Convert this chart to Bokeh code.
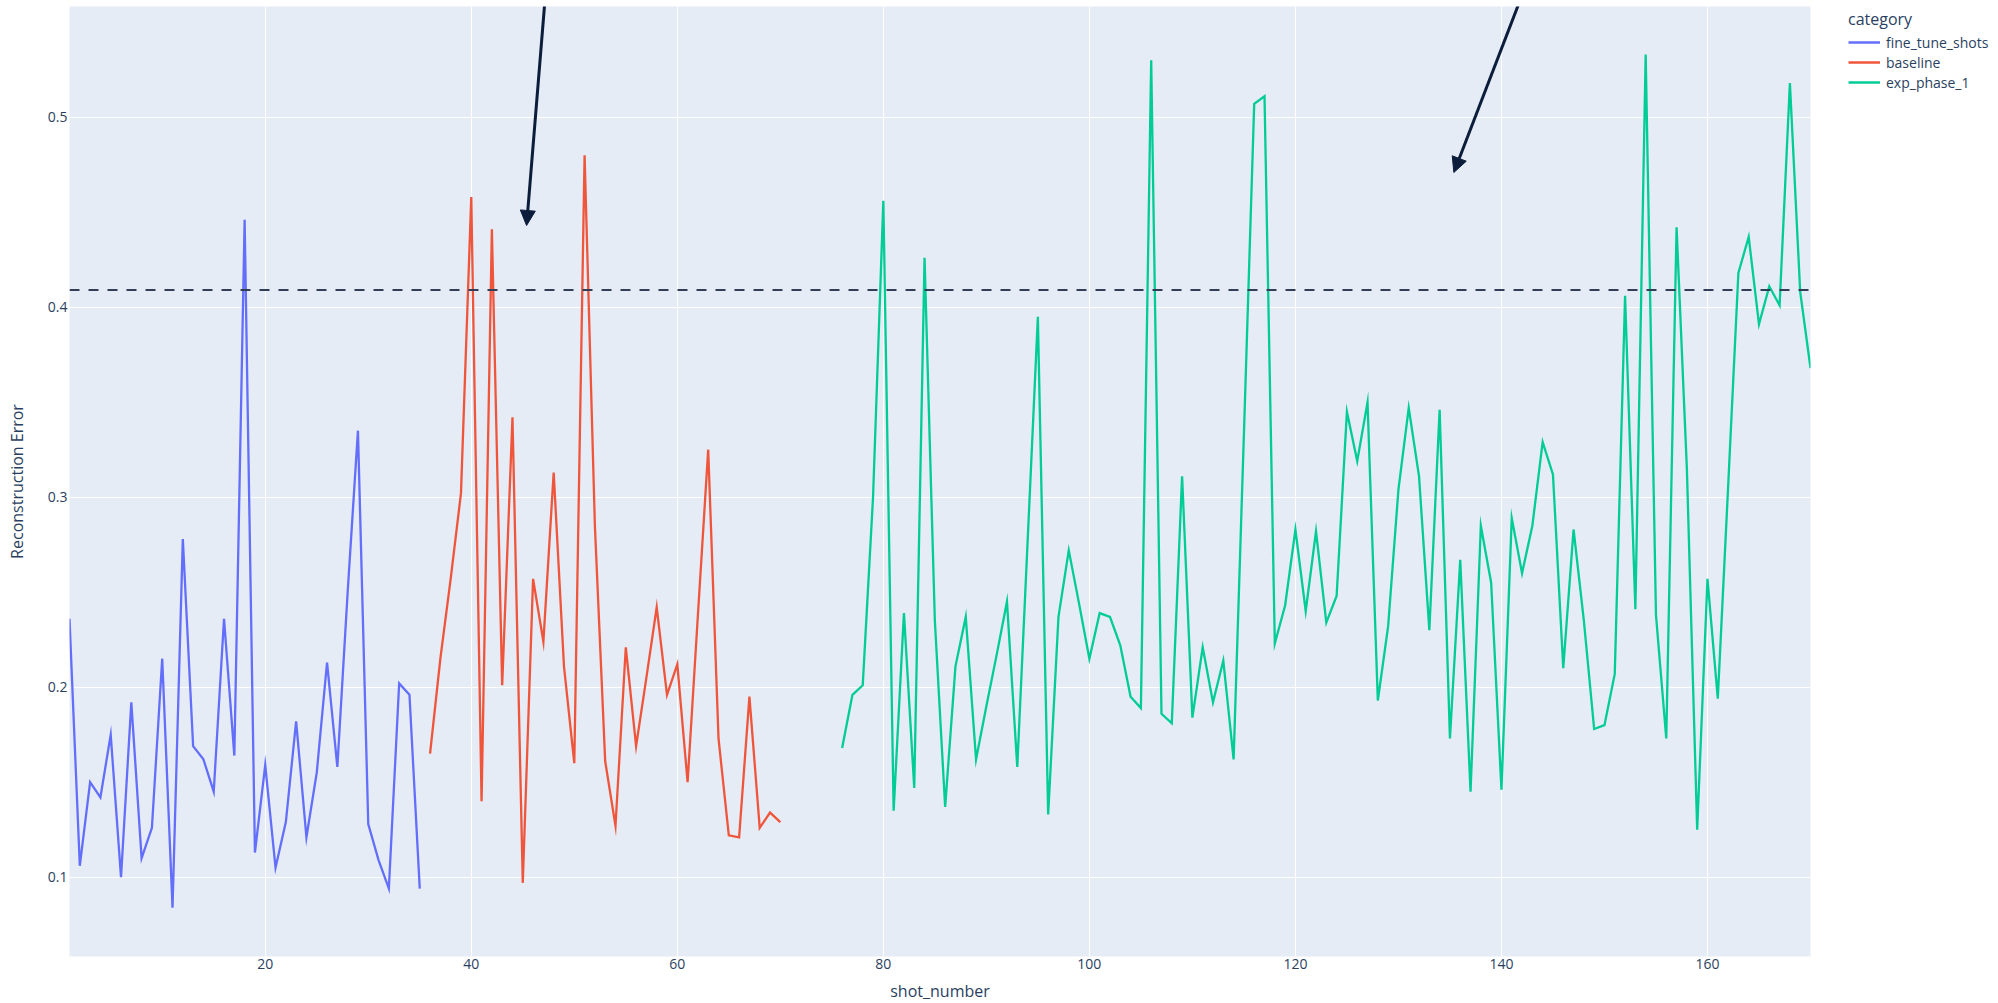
from bokeh.plotting import figure
from bokeh.models import FixedTicker, Arrow, NormalHead, Span, Legend, LegendItem, Range1d
from bokeh.embed import file_html
from bokeh.resources import INLINE

categories = ["fine_tune_shots", "baseline", "exp_phase_1"]

fine_tune_x = list(range(1, 36))
fine_tune_y = [0.236, 0.106, 0.150, 0.142, 0.175, 0.100, 0.192, 0.110, 0.126, 0.215,
               0.084, 0.278, 0.169, 0.162, 0.145, 0.236, 0.164, 0.446, 0.113, 0.159,
               0.105, 0.129, 0.182, 0.121, 0.155, 0.213, 0.158, 0.250, 0.335, 0.128,
               0.109, 0.094, 0.202, 0.196, 0.094]

baseline_x = list(range(36, 71))
baseline_y = [0.165, 0.215, 0.257, 0.302, 0.458, 0.140, 0.441, 0.201, 0.342, 0.097,
              0.257, 0.224, 0.313, 0.211, 0.160, 0.480, 0.285, 0.161, 0.127, 0.221,
              0.169, 0.205, 0.242, 0.196, 0.212, 0.150, 0.238, 0.325, 0.173, 0.122,
              0.121, 0.195, 0.126, 0.134, 0.129]

exp_x = list(range(76, 171))
exp_y = [0.168, 0.196, 0.201, 0.300, 0.456, 0.135, 0.239, 0.147, 0.426, 0.235,
         0.137, 0.211, 0.237, 0.162, 0.190, 0.217, 0.245, 0.158, 0.276, 0.395,
         0.133, 0.237, 0.272, 0.244, 0.215, 0.239, 0.237, 0.222, 0.195, 0.189,
         0.530, 0.186, 0.181, 0.311, 0.184, 0.221, 0.192, 0.214, 0.162, 0.333,
         0.507, 0.511, 0.223, 0.243, 0.283, 0.240, 0.282, 0.234, 0.248, 0.345,
         0.319, 0.350, 0.193, 0.232, 0.304, 0.347, 0.311, 0.230, 0.346, 0.173,
         0.267, 0.145, 0.285, 0.255, 0.146, 0.289, 0.260, 0.285, 0.329, 0.312,
         0.210, 0.283, 0.235, 0.178, 0.180, 0.207, 0.406, 0.241, 0.533, 0.238,
         0.173, 0.442, 0.315, 0.125, 0.257, 0.194, 0.305, 0.418, 0.437, 0.391,
         0.411, 0.401, 0.518, 0.408, 0.368]

threshold = 0.409
x_ticks = [20, 40, 60, 80, 100, 120, 140, 160]
y_ticks = [0.1, 0.2, 0.3, 0.4, 0.5]

# arrows: (x_start, y_start, x_end, y_end)
arrows = [(47.15, 0.5614, 45.37, 0.443), (141.8, 0.5614, 135.38, 0.4709)]

colors = ["#636efa", "#EF553B", "#00cc96"]
font = "Open Sans"
txt = "#2a3f5f"

p = figure(frame_width=1741, frame_height=950, output_backend="svg", toolbar_location=None,
           x_range=Range1d(1, 170), y_range=Range1d(0.05826, 0.55826),
           min_border_left=69, min_border_right=10, min_border_top=6, min_border_bottom=10)
p.background_fill_color = "#E5ECF6"
p.border_fill_color = "white"
p.outline_line_color = None

for ax in (p.xaxis[0], p.yaxis[0]):
    ax.axis_line_color = None
    ax.major_tick_line_color = None
    ax.minor_tick_line_color = None
    ax.major_tick_out = 0
    ax.major_tick_in = 0
    ax.minor_tick_out = 0
    ax.minor_tick_in = 0
    ax.major_label_text_font = font
    ax.major_label_text_font_size = "14px"
    ax.major_label_text_color = txt
    ax.axis_label_text_font = font
    ax.axis_label_text_font_size = "16px"
    ax.axis_label_text_color = txt
    ax.axis_label_text_font_style = "normal"

p.xaxis.ticker = FixedTicker(ticks=x_ticks)
p.yaxis.ticker = FixedTicker(ticks=y_ticks)
p.xaxis.axis_label = "shot_number"
p.yaxis.axis_label = "Reconstruction Error"
p.xaxis.major_label_standoff = 2
p.xaxis.axis_label_standoff = 8
p.yaxis.major_label_standoff = 2
p.yaxis.axis_label_standoff = 17

p.xgrid.grid_line_color = "white"
p.ygrid.grid_line_color = "white"
p.xgrid.grid_line_width = 1
p.ygrid.grid_line_width = 1

series = [(fine_tune_x, fine_tune_y), (baseline_x, baseline_y), (exp_x, exp_y)]
items = []
for (xs, ys), c, name in zip(series, colors, categories):
    r = p.line(xs, ys, line_color=c, line_width=2.3, line_join="miter")
    items.append(LegendItem(label=name, renderers=[r]))

span = Span(location=threshold, dimension="width", line_color="#323e58",
            line_width=2, line_dash="10 9")
p.add_layout(span)

ac = "#0b1d3a"
for xs0, ys0, xe, ye in arrows:
    p.add_layout(Arrow(x_start=xs0, y_start=ys0, x_end=xe, y_end=ye,
                       line_color=ac, line_width=3,
                       end=NormalHead(size=15, fill_color=ac, line_color=ac, line_width=1)))

legend = Legend(items=items, location=(38, 864), title="category",
                title_text_font=font, title_text_font_size="16px", title_text_color=txt,
                title_text_font_style="normal", title_standoff=2,
                label_text_font=font, label_text_font_size="14px", label_text_color=txt,
                glyph_width=32, glyph_height=20, label_height=20, label_standoff=6,
                spacing=0, padding=4, margin=0,
                border_line_color=None, background_fill_alpha=0)
p.add_layout(legend, "right")
p.min_border_right = 180

open("out.html", "w").write(file_html(p, INLINE))
